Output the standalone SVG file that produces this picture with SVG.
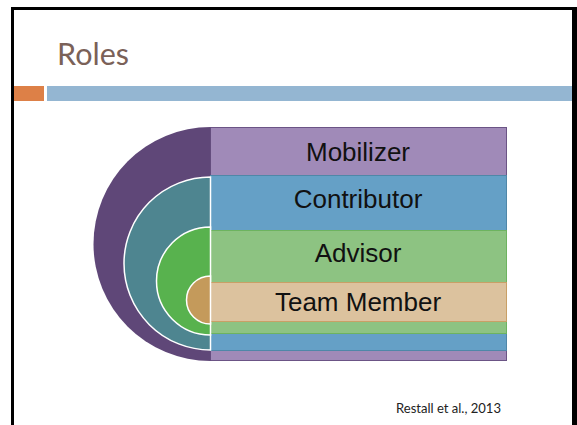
<svg xmlns="http://www.w3.org/2000/svg" width="577" height="425" viewBox="0 0 577 425">
<style>
.band{stroke-width:1}
.arc{stroke:#ffffff;stroke-width:1.5}
.lbl{font-family:"Liberation Sans",Arial,sans-serif;font-size:26px;fill:#111111;text-anchor:middle}
</style>
<rect x="0" y="0" width="577" height="425" fill="#ffffff"/>
<g id="frame">
<rect x="11" y="7" width="3" height="418" fill="#000000"/>
<rect x="11" y="7" width="566" height="3" fill="#000000"/>
<rect x="572" y="7" width="5" height="418" fill="#000000"/>
</g>
<g id="title">
<text x="57" y="65" font-family="Lato,'Open Sans',sans-serif" font-size="31" fill="#7A6158" textLength="72" lengthAdjust="spacingAndGlyphs">Roles</text>
<rect x="14" y="86" width="30" height="15" fill="#DD8047"/>
<rect x="47" y="86" width="525" height="15" fill="#94B6D2"/>
</g>
<g id="mobilizer">
<rect class="band" x="210.5" y="127.5" width="296" height="233" fill="#A08AB8" stroke="#6B5485"/>
<path d="M210.5,127 A117,117 0 0 0 210.5,361 Z" fill="#5F4778"/>
<text class="lbl" x="358" y="161">Mobilizer</text>
</g>
<g id="contributor">
<rect class="band" x="210.5" y="175.5" width="296" height="175" fill="#65A0C6" stroke="#4F87A8"/>
<path class="arc" d="M210.5,177 A86.5,86.5 0 0 0 210.5,350 Z" fill="#4E8590"/>
<text class="lbl" x="358" y="208">Contributor</text>
</g>
<g id="advisor">
<rect class="band" x="210.5" y="230.5" width="296" height="103" fill="#8DC382" stroke="#6DB35F"/>
<path class="arc" d="M210.5,227 A54,54 0 0 0 210.5,335 Z" fill="#58B24E"/>
<text class="lbl" x="358" y="262">Advisor</text>
</g>
<g id="team-member">
<rect class="band" x="210.5" y="282.5" width="296" height="39" fill="#DCC29E" stroke="#C9A066"/>
<path class="arc" d="M210.5,276 A24,24 0 0 0 210.5,324 Z" fill="#C49A5B"/>
<text class="lbl" x="358" y="311">Team Member</text>
</g>
<g id="connectors"/>
<g id="citation">
<text x="396" y="413" font-family="Lato,'Open Sans',sans-serif" font-size="12.5" fill="#222222" textLength="105" lengthAdjust="spacingAndGlyphs">Restall et al., 2013</text>
</g>
</svg>
